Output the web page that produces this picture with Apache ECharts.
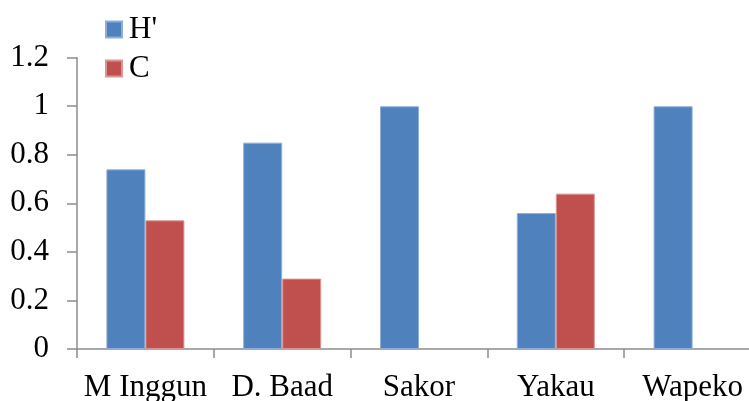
<!DOCTYPE html>
<html>
<head>
<meta charset="utf-8">
<script src="https://cdn.jsdelivr.net/npm/echarts@6/dist/echarts.min.js"></script>
<style>
  html, body { margin: 0; padding: 0; background: #fff; }
  #chart { width: 749px; height: 401px; }
</style>
</head>
<body>
<div id="chart"></div>
<script>
// Sites along the x axis
var sites = ['M Inggun', 'D. Baad', 'Sakor', 'Yakau', 'Wapeko'];
// Diversity index H' per site
var hValues = [0.74, 0.85, 1, 0.56, 1];
// Dominance index C per site (no value at Sakor and Wapeko)
var cValues = [0.53, 0.29, null, 0.64, null];
// Value axis range
var yMin = 0, yMax = 1.2, yStep = 0.2;

var FONT = '"Liberation Serif", "Times New Roman", serif';
var AXIS_GREY = '#8c8c8c';

var chart = echarts.init(document.getElementById('chart'), null, { renderer: 'canvas' });
chart.setOption({
  animation: false,
  backgroundColor: '#ffffff',
  textStyle: { fontFamily: FONT, color: '#000' },
  grid: { left: 77, top: 57.7, width: 684, bottom: 52, containLabel: false, outerBoundsMode: 'none' },
  legend: {
    orient: 'vertical',
    left: 105,
    top: 14,
    padding: 0,
    itemWidth: 16,
    itemHeight: 16,
    itemGap: 8,
    icon: 'rect',
    textStyle: { fontFamily: FONT, fontSize: 31, color: '#000', padding: [0, 0, 0, 2] },
    data: ["H'", 'C']
  },
  xAxis: {
    type: 'category',
    data: sites,
    axisLine: { lineStyle: { color: AXIS_GREY, width: 1.5 } },
    axisTick: { show: true, alignWithLabel: false, length: 9, lineStyle: { color: AXIS_GREY, width: 1.5 } },
    axisLabel: { fontFamily: FONT, fontSize: 31, color: '#000', margin: 23, interval: 0 },
    splitLine: { show: false }
  },
  yAxis: {
    type: 'value',
    min: yMin,
    max: yMax,
    interval: yStep,
    axisLine: { show: true, lineStyle: { color: AXIS_GREY, width: 1.5 } },
    axisTick: { show: true, length: 10, lineStyle: { color: AXIS_GREY, width: 1.5 } },
    axisLabel: {
      fontFamily: FONT, fontSize: 31, color: '#000', margin: 28,
      formatter: function (v) { return String(Math.round(v * 10) / 10); }
    },
    splitLine: { show: false }
  },
  series: [
    {
      name: "H'",
      type: 'bar',
      data: hValues,
      barWidth: 39,
      barGap: '0%',
      itemStyle: { color: '#4f81bd', borderColor: '#8eaed6', borderWidth: 1 }
    },
    {
      name: 'C',
      type: 'bar',
      data: cValues,
      barWidth: 39,
      barGap: '0%',
      itemStyle: { color: '#c0504d', borderColor: '#d99593', borderWidth: 1 }
    }
  ]
});
</script>
</body>
</html>
